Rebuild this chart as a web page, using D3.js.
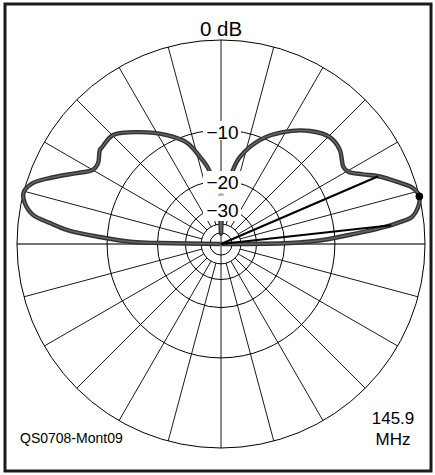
<!DOCTYPE html>
<html>
<head>
<meta charset="utf-8">
<script src="https://cdn.jsdelivr.net/npm/d3@7"></script>
<style>
  html, body { margin: 0; padding: 0; background: #fff; }
  svg { display: block; font-family: "Liberation Sans", Arial, sans-serif; }
</style>
</head>
<body>
<svg id="chart" width="435" height="475"></svg>
<script>
// Elevation pattern, 145.9 MHz: elevation angle (deg) and relative gain (dB)
const elevationDeg = [0, 0.8, 2.25, 4.5, 5.5, 6.3, 7, 8, 10.6, 13.5, 16.3, 19.4, 23.3, 26.2, 29.6, 32.3, 34.8, 38.3, 44.5, 51.8, 61, 69.4, 77.7, 80.8, 84, 86.5, 88.5, 90, 91.5, 93.5, 96, 99.7, 103.6, 108.6, 116.4, 125.9, 134.7, 140.8, 142.2, 146.6, 150, 153.8, 158.3, 162, 165.3, 168.2, 171.2, 173, 174.8, 176.7, 178.7, 179.1, 180];
const gainDb = [-100, -18.6, -11.9, -6.9, -4.6, -3.0, -2.1, -1.0, -0.3, 0, -0.35, -1.5, -3.0, -4.4, -5.7, -5.9, -5.6, -5.1, -5.0, -6.0, -8.0, -10.4, -14.2, -17.2, -22, -29, -38, -51, -38, -29, -22, -16.7, -14.1, -11.1, -8.9, -6.7, -4.9, -4.9, -4.9, -5.6, -5.5, -4.1, -2.1, -0.55, 0, -0.3, -1.2, -2.9, -4.8, -8.9, -14.4, -20.7, -100];

// Main-lobe peak and half-power (-3 dB) directions
const peakDeg = [13.5];
const halfPowerDeg = [6.3, 23.3];
const halfPowerDb = -3;

// Grid rings (dB) and the ones that carry a label
const ringDb = [0, -10, -20, -30, -40, -50];
const ringLabels = ["−10", "−20", "−30"];
const ringLabelDb = [-10, -20, -30];
const topLabel = "0 dB";
const unitNote = "dBi";
const figureId = "QS0708-Mont09";
const freqLines = ["145.9", "MHz"];

const svg = d3.select("#chart");
const cx = 221, cy = 244, R = 204;

// ARRL log-periodic radial scale: each 2 dB multiplies the radius by 0.89
const logRadius = d3.scaleLinear()
  .domain([0, -10])
  .range([Math.log(R), Math.log(R * Math.pow(0.89, 5))]);
const r = db => Math.exp(logRadius(db));

// Elevation angle (0 = right horizon, 90 = zenith) to d3 radial angle
const toRad = deg => (90 - deg) * Math.PI / 180;
const px = (deg, rad) => cx + rad * Math.sin(toRad(deg));
const py = (deg, rad) => cy - rad * Math.cos(toRad(deg));

// frame
svg.append("rect")
  .attr("x", 5).attr("y", 4).attr("width", 426).attr("height", 467)
  .attr("fill", "none").attr("stroke", "#1a1a1a").attr("stroke-width", 3);

const g = svg.append("g");

// spokes every 15 deg; the four axes run through the centre
d3.range(0, 360, 15).forEach(a => {
  const axis = a % 90 === 0;
  const r0 = axis ? 0 : r(-40);
  g.append("line")
    .attr("x1", px(a, r0)).attr("y1", py(a, r0))
    .attr("x2", px(a, R)).attr("y2", py(a, R))
    .attr("stroke", a % 180 === 0 ? "#444" : "#000")
    .attr("stroke-width", a % 180 === 0 ? 1.4 : 0.9);
});

// rings
g.selectAll("circle.ring").data(ringDb).enter().append("circle")
  .attr("class", "ring")
  .attr("cx", cx).attr("cy", cy)
  .attr("r", d => r(d))
  .attr("fill", "none").attr("stroke", "#000").attr("stroke-width", 1);

// pattern
const pts = elevationDeg.map((a, i) => [a, gainDb[i]]);
const line = d3.lineRadial()
  .angle(d => toRad(d[0]))
  .radius(d => r(d[1]))
  .curve(d3.curveCatmullRom.alpha(0.5));

const pg = g.append("g").attr("transform", `translate(${cx},${cy})`);
pg.append("path").attr("d", line(pts))
  .attr("fill", "none").attr("stroke", "#333").attr("stroke-width", 4.4)
  .attr("stroke-linejoin", "round");
pg.append("path").attr("d", line(pts))
  .attr("fill", "none").attr("stroke", "#666").attr("stroke-width", 1.4)
  .attr("stroke-linejoin", "round");

// half-power lines
halfPowerDeg.forEach(a => {
  g.append("line")
    .attr("x1", cx).attr("y1", cy)
    .attr("x2", px(a, r(halfPowerDb))).attr("y2", py(a, r(halfPowerDb)))
    .attr("stroke", "#000").attr("stroke-width", 2);
});

// peak marker
peakDeg.forEach(a => {
  g.append("circle")
    .attr("cx", px(a, r(0))).attr("cy", py(a, r(0)))
    .attr("r", 3.8).attr("fill", "#000");
});

// ring label backgrounds
g.append("rect").attr("x", 203).attr("y", 121).attr("width", 38).attr("height", 19).attr("fill", "#fff");
g.append("rect").attr("x", 203).attr("y", 171).attr("width", 38).attr("height", 50).attr("fill", "#fff");

// ring labels
ringLabels.forEach((t, i) => {
  g.append("text")
    .attr("x", cx + 1.5).attr("y", cy - r(ringLabelDb[i]) + 8.5)
    .attr("text-anchor", "middle")
    .attr("font-size", 19).attr("fill", "#000")
    .text(t);
});
g.append("text").attr("x", cx).attr("y", 195.5)
  .attr("text-anchor", "middle").attr("font-size", 4).attr("fill", "#555")
  .text(unitNote);

svg.append("text").attr("x", cx).attr("y", 36)
  .attr("text-anchor", "middle").attr("font-size", 20.5).attr("fill", "#000")
  .text(topLabel);

svg.append("text").attr("x", 20).attr("y", 443)
  .attr("font-size", 14).attr("fill", "#000")
  .text(figureId);

freqLines.forEach((t, i) => {
  svg.append("text").attr("x", 393).attr("y", 424 + i * 21)
    .attr("text-anchor", "middle").attr("font-size", 17).attr("fill", "#000")
    .text(t);
});
</script>
</body>
</html>
